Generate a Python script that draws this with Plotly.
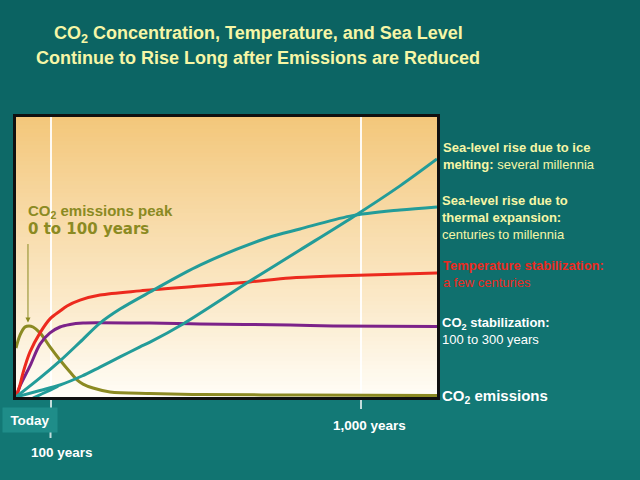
import plotly.graph_objects as go

# ---------------- data (schematic, years after today vs. relative magnitude) ----------------
emis_years = [0, 11.6, 26, 37.7, 49.3, 69.6, 98.5, 127.5, 156.5, 176.8, 194.2, 223.1, 272.4, 388.3, 533.2, 823, 1220]
emis_vals = [17.5, 22.1, 25.0, 25.4, 25.0, 22.9, 17.9, 13.2, 8.9, 6.1, 4.6, 3.2, 1.8, 1.25, 0.9, 0.7, 0.5]

temp_years = [0, 11.6, 20.3, 40.6, 69.6, 98.5, 127.5, 147.8, 185.5, 243.4, 359.4, 533.2, 678.1, 794.1, 918.7, 1220]
temp_vals = [0, 4.3, 8.6, 16.1, 22.9, 27.9, 30.7, 32.5, 34.6, 36.4, 37.9, 39.6, 41.1, 42.5, 43.2, 44.3]

co2_years = [0, 11.6, 40.6, 69.6, 98.5, 127.5, 156.5, 194.2, 243.4, 388.3, 533.2, 794.1, 918.7, 1220]
co2_vals = [0, 3.9, 11.1, 18.9, 22.9, 25.0, 25.9, 26.4, 26.5, 26.4, 26.1, 25.7, 25.4, 25.2]

thermal_years = [0, 69.6, 127.5, 185.5, 243.4, 301.4, 388.3, 533.2, 727.4, 823, 968, 1112.8, 1220]
thermal_vals = [0, 6.8, 12.9, 19.6, 26.4, 31.4, 37.5, 47.1, 56.8, 60.0, 64.6, 66.8, 67.9]

ice_years = [0, 69.6, 127.5, 191.3, 243.4, 301.4, 359.4, 388.3, 484, 678, 823, 976.6, 1112.8, 1220]
ice_vals = [0, 2.3, 4.3, 7.5, 10.7, 14.3, 17.9, 19.6, 26.1, 41.4, 52.5, 64.3, 75.4, 85.0]

ice_start_years = [49, 84, 122]
ice_start_vals = [-0.4, 1.6, 3.9]

tick_years = [100, 1000]
tick_labels = ["100 years", "1,000 years"]

# ---------------- styling ----------------
BG = "#0e6c6b"
TEAL = "#239c99"
RED = "#ec2a1e"
PURPLE = "#7c2289"
OLIVE = "#8b8a22"
YELLOW = "#f6f6a6"
FONT = "Liberation Sans, Arial, sans-serif"

fig = go.Figure()

def add_line(xs, ys, color, name):
    fig.add_trace(go.Scatter(x=xs, y=ys, mode="lines", name=name,
                             line=dict(color=color, width=3, shape="spline", smoothing=0.9),
                             hoverinfo="skip", showlegend=False))

add_line(emis_years, emis_vals, OLIVE, "CO2 emissions")
add_line(co2_years, co2_vals, PURPLE, "CO2 concentration")
add_line(temp_years, temp_vals, RED, "Temperature")
add_line(ice_start_years, ice_start_vals, TEAL, "Ice start")
add_line(ice_years, ice_vals, TEAL, "Sea level (ice melting)")
add_line(thermal_years, thermal_vals, TEAL, "Sea level (thermal expansion)")

def make_grad(stops):
    def grad(t):
        for (t0, c0), (t1, c1) in zip(stops[:-1], stops[1:]):
            if t0 <= t <= t1:
                f = (t - t0) / (t1 - t0)
                return tuple(round(a + (b - a) * f) for a, b in zip(c0, c1))
        return stops[-1][1]
    return grad

shapes = []

# ---------------- page background (subtle teal gradient, top -> bottom) ----------------
page_grad = make_grad([(0.0, (11, 98, 97)), (0.55, (15, 110, 108)), (0.85, (19, 121, 118)), (1.0, (17, 116, 113))])
PN = 48
py_top, py_bot = 397 / 280, (397 - 480) / 280
for i in range(PN):
    t0, t1 = i / PN, (i + 1) / PN
    c = page_grad((t0 + t1) / 2)
    shapes.append(dict(type="rect", xref="paper", yref="paper", x0=-16 / 421, x1=(640 - 16) / 421,
                       y0=py_top + (py_bot - py_top) * t0, y1=py_top + (py_bot - py_top) * min(1, t1 + 0.005),
                       layer="below", fillcolor="rgb(%d,%d,%d)" % c, line=dict(width=0)))

# ---------------- gradient plot background ----------------
plot_grad = make_grad([(0.0, (255, 253, 247)), (0.35, (251, 233, 200)), (0.7, (247, 215, 160)), (1.0, (243, 199, 122))])
N = 70
for i in range(N):
    c = plot_grad((i + 0.5) / N)
    shapes.append(dict(type="rect", xref="paper", yref="paper", x0=0, x1=1,
                       y0=i / N, y1=min(1, (i + 1) / N + 0.004), layer="below",
                       fillcolor="rgb(%d,%d,%d)" % c, line=dict(width=0)))

# second little tick under the "Today" box
shapes.append(dict(type="line", xref="x", yref="paper", x0=tick_years[0], x1=tick_years[0],
                   y0=-0.1214, y1=-0.1464, line=dict(color="rgba(225,238,238,0.85)", width=2)))

annotations = []
# Title
annotations.append(dict(text="<b>CO<sub>2</sub> Concentration, Temperature, and Sea Level</b>",
                        xref="paper", yref="paper", x=0.575, y=(397 - 35) / 280,
                        xanchor="center", yanchor="middle", showarrow=False,
                        font=dict(family=FONT, size=18, color=YELLOW)))
annotations.append(dict(text="<b>Continue to Rise Long after Emissions are Reduced</b>",
                        xref="paper", yref="paper", x=0.575, y=(397 - 58) / 280,
                        xanchor="center", yanchor="middle", showarrow=False,
                        font=dict(family=FONT, size=18, color=YELLOW)))

# Right-side labels
def right_label(text, ycenter_px, color, size=13):
    annotations.append(dict(text=text, xref="paper", yref="paper", x=(440.5 - 16) / 421,
                            y=(397 - ycenter_px) / 280, xanchor="left", yanchor="middle",
                            align="left", showarrow=False,
                            font=dict(family=FONT, size=size, color=color)))

right_label("<b>Sea-level rise due to ice</b><br><b>melting:</b> several millennia", 155.5, YELLOW)
right_label("<b>Sea-level rise due to</b><br><b>thermal expansion:</b><br>centuries to millennia", 217.7, YELLOW)
right_label("<b>Temperature stabilization:</b><br>a few centuries", 274.2, RED)
right_label("<b>CO<sub>2</sub> stabilization:</b><br>100 to 300 years", 331, "white")
right_label("<b>CO<sub>2</sub> emissions</b>", 396.5, "white", size=15)

# Emissions peak note
annotations.append(dict(text="<b>CO<sub>2</sub> emissions peak</b>", xref="paper", yref="paper",
                        x=(26 - 16) / 421, y=(397 - 211) / 280, xanchor="left", yanchor="middle",
                        showarrow=False, font=dict(family=FONT, size=15, color=OLIVE)))
annotations.append(dict(text="<b>0 to 100 years</b>", xref="paper", yref="paper",
                        x=(26 - 16) / 421, y=(397 - 229) / 280, xanchor="left", yanchor="middle",
                        showarrow=False, font=dict(family="DejaVu Sans, Verdana, sans-serif", size=15, color=OLIVE)))
peak_i = emis_vals.index(max(emis_vals))
annotations.append(dict(text="", x=emis_years[peak_i] - 3, y=emis_vals[peak_i] + 1.2, xref="x", yref="y",
                        showarrow=True, ax=0, ay=-80, arrowhead=2, arrowsize=1, arrowwidth=1,
                        arrowcolor=OLIVE))

# Today box
annotations.append(dict(text="<b>Today</b>", xref="paper", yref="paper", x=(30 - 16) / 421,
                        y=(397 - 419.5) / 280, xanchor="center", yanchor="middle", showarrow=False,
                        width=52, height=22, borderpad=1, bgcolor="#1f8d89",
                        font=dict(family=FONT, size=13.5, color="white")))
# tick labels
annotations.append(dict(text="<b>%s</b>" % tick_labels[0], xref="paper", yref="paper",
                        x=(61.5 - 16) / 421, y=(397 - 452) / 280, xanchor="center", yanchor="middle",
                        showarrow=False, font=dict(family=FONT, size=13.5, color="white")))
annotations.append(dict(text="<b>%s</b>" % tick_labels[1], xref="paper", yref="paper",
                        x=(369.5 - 16) / 421, y=(397 - 425) / 280, xanchor="center", yanchor="middle",
                        showarrow=False, font=dict(family=FONT, size=13.5, color="white")))

fig.update_layout(
    width=640, height=480, autosize=False,
    margin=dict(l=16, r=203, t=117, b=83),
    paper_bgcolor=BG, plot_bgcolor="#fdf6e8",
    shapes=shapes, annotations=annotations,
    xaxis=dict(range=[0, 1220], tickvals=tick_years, showticklabels=False,
               ticks="outside", ticklen=9, tickwidth=2, tickcolor="rgba(225,238,238,0.85)",
               showgrid=True, gridcolor="rgba(255,255,255,0.9)", gridwidth=2,
               showline=True, linecolor="#101010", linewidth=2.5, mirror=True, zeroline=False,
               fixedrange=True),
    yaxis=dict(range=[0, 100], showticklabels=False, ticks="", showgrid=False,
               showline=True, linecolor="#101010", linewidth=2.5, mirror=True, zeroline=False,
               fixedrange=True),
)

fig.write_html("out.html", config={"displayModeBar": False})
